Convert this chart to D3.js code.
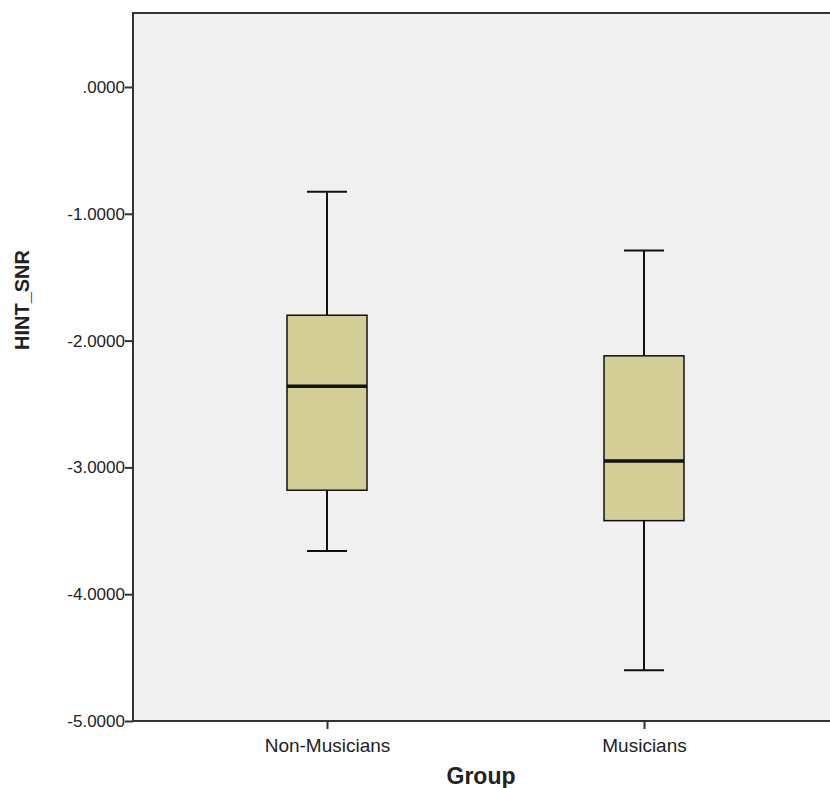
<!DOCTYPE html>
<html><head><meta charset="utf-8">
<script src="https://cdn.jsdelivr.net/npm/d3@7"></script>
<style>body{margin:0;background:#fff}</style></head>
<body><svg id="c" width="830" height="788"></svg>
<script>
const groups = ["Non-Musicians","Musicians"];
const whiskerLow  = [-3.66, -4.60];
const q1          = [-3.18, -3.42];
const median      = [-2.36, -2.95];
const q3          = [-1.80, -2.12];
const whiskerHigh = [-0.826, -1.29];
const yTicks = [0,-1,-2,-3,-4,-5];
const yTickLabels = [".0000","-1.0000","-2.0000","-3.0000","-4.0000","-5.0000"];

const svg = d3.select("#c");
const L=133, R=832, T=13, B=721;
const y = d3.scaleLinear().domain([-5, 0.5834]).range([B, T]);
const x = d3.scalePoint().domain(groups).range([327, 644]);
svg.append("rect").attr("x",L).attr("y",T).attr("width",R-L).attr("height",B-T).attr("fill","#f0f0f0").attr("stroke","#333").attr("stroke-width",2);

const font="Liberation Sans Narrow, Arial Narrow, Liberation Sans, Arial, sans-serif";
const yAx = svg.append("g").attr("transform",`translate(${L},0)`)
  .call(d3.axisLeft(y).tickValues(yTicks).tickFormat((d,i)=>yTickLabels[i]).tickSize(8).tickSizeOuter(0));
yAx.select(".domain").remove();
yAx.selectAll("line").attr("stroke","#333").attr("stroke-width",2);
yAx.selectAll("text").style("font-family",font).style("font-size","17px").attr("fill","#222").attr("dx","3");

const xAx = svg.append("g").attr("transform",`translate(0,${B})`)
  .call(d3.axisBottom(x).tickSize(8).tickSizeOuter(0));
xAx.select(".domain").remove();
xAx.selectAll("line").attr("stroke","#333").attr("stroke-width",2);
xAx.selectAll("text").style("font-family",font).style("font-size","19px").attr("fill","#222").attr("dy","1.05em");

const bw = 80, cap = 40;
groups.forEach((g,i)=>{
  const c = x(g);
  const gg = svg.append("g").attr("stroke","#111").attr("stroke-width",2);
  gg.append("line").attr("x1",c).attr("x2",c).attr("y1",y(whiskerHigh[i])).attr("y2",y(q3[i]));
  gg.append("line").attr("x1",c).attr("x2",c).attr("y1",y(q1[i])).attr("y2",y(whiskerLow[i]));
  gg.append("line").attr("x1",c-cap/2).attr("x2",c+cap/2).attr("y1",y(whiskerHigh[i])).attr("y2",y(whiskerHigh[i]));
  gg.append("line").attr("x1",c-cap/2).attr("x2",c+cap/2).attr("y1",y(whiskerLow[i])).attr("y2",y(whiskerLow[i]));
  gg.append("rect").attr("x",c-bw/2).attr("width",bw).attr("y",y(q3[i])).attr("height",y(q1[i])-y(q3[i])).attr("fill","#d3ce96").attr("stroke-width",1.5);
  gg.append("line").attr("x1",c-bw/2).attr("x2",c+bw/2).attr("y1",y(median[i])).attr("y2",y(median[i])).attr("stroke-width",3.5);
});

svg.append("text").attr("x",481).attr("y",784).attr("text-anchor","middle").style("font-family","Liberation Sans, Arial, sans-serif").attr("font-weight","bold").style("font-size","23px").attr("fill","#222").text("Group");
svg.append("text").attr("transform","translate(29,300) rotate(-90)").attr("text-anchor","middle").style("font-family","Liberation Sans, Arial, sans-serif").attr("font-weight","bold").style("font-size","20px").attr("fill","#222").text("HINT_SNR");
</script></body></html>
